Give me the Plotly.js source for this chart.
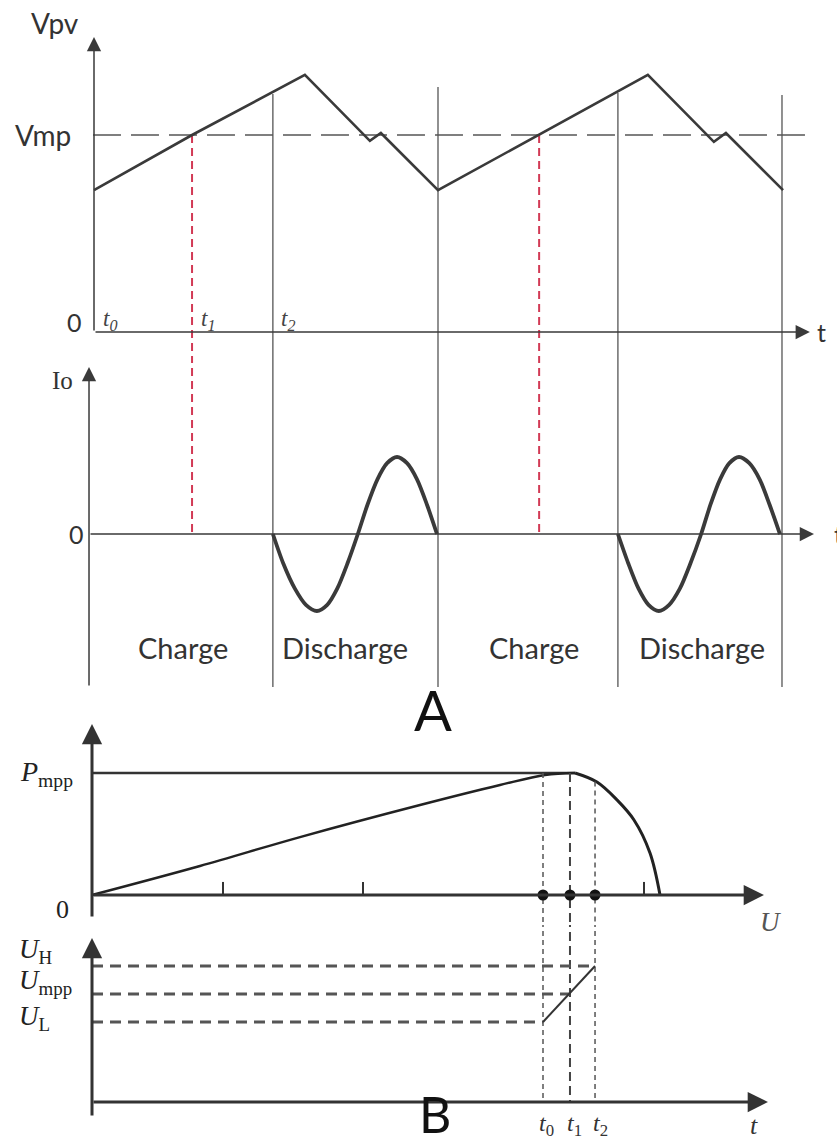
<!DOCTYPE html>
<html><head><meta charset="utf-8">
<script src="https://cdn.plot.ly/plotly-3.0.1.min.js"></script>
<style>html,body{margin:0;padding:0;background:#fff}#chart{width:837px;height:1144px}</style>
</head><body><div id="chart"></div>
<script>
// ---------- Panel A (top): PV voltage Vpv vs time ----------
const tV  = [0, 2.85, 6.13, 8.02, 8.34, 10.0, 16.1, 18.02, 18.37, 20.03];
const vPV = [0.72, 1.0, 1.305, 0.97, 1.01, 0.72, 1.305, 0.965, 1.01, 0.72];
const vMP = 1.0;
const tSwitch = [5.20, 10.0, 15.23, 20.0];
const vSwitchTop = [1.208, 1.244, 1.213, 1.203];
const tMPP = [2.85, 12.94];
const tLabelsA = ['0', '1', '2'];
const tLabelPosA = [0.47, 3.3, 5.64];
// ---------- Panel A (bottom): output current Io ----------
const tIo1 = [5.20, 5.50, 5.84, 6.16, 6.48, 6.78, 7.07, 7.37, 7.67, 7.95, 8.24, 8.52, 8.81, 9.10, 9.39, 9.68, 9.97];
const tIo2 = [15.23, 15.53, 15.83, 16.12, 16.42, 16.72, 17.03, 17.34, 17.65, 17.92, 18.2, 18.47, 18.75, 19.05, 19.35, 19.64, 19.94];
const io1  = [0, -0.38, -0.71, -0.92, -1, -0.92, -0.71, -0.38, 0, 0.38, 0.71, 0.92, 1, 0.92, 0.71, 0.38, 0];
const io2  = [0, -0.38, -0.71, -0.92, -1, -0.92, -0.71, -0.38, 0, 0.38, 0.71, 0.92, 1, 0.92, 0.71, 0.38, 0];
const ioBottom = -1.987;
const phaseLabels = ['Charge', 'Discharge', 'Charge', 'Discharge'];
const phaseT = [2.59, 7.30, 12.79, 17.67];
// ---------- Panel B (top): P vs U ----------
const uRise = [0, 19.01, 36.62, 57.75, 71.83, 79.75, 85.04];
const pRise = [0, 0.238, 0.475, 0.738, 0.902, 0.984, 1.0];
const uFall = [85.04, 88.9, 92.43, 95.42, 98.24, 100];
const pFall = [1.0, 0.926, 0.779, 0.615, 0.344, 0];
const pMPP = 1.0;
const uTicks = [23.06, 47.71, 97.18];
const tMarks = [79.40, 84.15, 88.56];      // t0, t1, t2
const pMarkTop = [1.0, 1.0, 0.93];
const tMarkNames = ['0', '1', '2'];
// ---------- Panel B (bottom): U vs t ----------
const levelNames = ['L', 'mpp', 'H'];
const levelVals = [0.741, 1.0, 1.259];
const levelEnds = [79.40, 84.15, 88.56];
const tRamp = [79.40, 88.56];
const uRamp = [0.741, 1.259];

const dark = '#3a3a3a', mid = '#555555';
const traces = [];
function seg(xs, ys, xa, ya, line, extra) {
  traces.push(Object.assign({type:'scatter', mode:'lines', x:xs, y:ys, xaxis:xa, yaxis:ya,
    line:line, hoverinfo:'skip', showlegend:false}, extra||{}));
}
function verticals(xs, tops, bottoms) {
  const X = [], Y = [];
  xs.forEach((x, i) => { X.push(x, x, null); Y.push(tops[i], bottoms[i], null); });
  return [X, Y];
}
// A1
seg([-0.03, 20.67], [vMP, vMP], 'x', 'y', {color:mid, width:1.4, dash:'28px,10px'});
let v = verticals(tSwitch, vSwitchTop, tSwitch.map(() => -1));
seg(v[0], v[1], 'x', 'y', {color:mid, width:1.3});
v = verticals(tMPP, tMPP.map(() => vMP), tMPP.map(() => -1));
seg(v[0], v[1], 'x', 'y', {color:'#d23a55', width:2, dash:'8px,5px'});
seg(tV, vPV, 'x', 'y', {color:dark, width:2.6});
// A2
v = verticals(tSwitch, tSwitch.map(() => 3), tSwitch.map(() => ioBottom));
seg(v[0], v[1], 'x', 'y2', {color:mid, width:1.3});
v = verticals(tMPP, tMPP.map(() => 3), tMPP.map(() => 0));
seg(v[0], v[1], 'x', 'y2', {color:'#d23a55', width:2, dash:'8px,5px'});
seg(tIo1, io1, 'x', 'y2', {color:dark, width:3.8, shape:'spline', smoothing:0.8});
seg(tIo2, io2, 'x', 'y2', {color:dark, width:3.8, shape:'spline', smoothing:0.8});
// B1
seg([0, 85.04], [pMPP, pMPP], 'x3', 'y3', {color:'#333', width:2.6});
seg(uRise, pRise, 'x3', 'y3', {color:'#222', width:2.4, shape:'spline'});
seg(uFall, pFall, 'x3', 'y3', {color:'#222', width:3, shape:'spline'});
v = verticals(uTicks, uTicks.map(() => 0.107), uTicks.map(() => 0));
seg(v[0], v[1], 'x3', 'y3', {color:'#333', width:2});
const shortIdx = [0, 2];
v = verticals(shortIdx.map(i => tMarks[i]), shortIdx.map(i => pMarkTop[i]), shortIdx.map(() => -1));
seg(v[0], v[1], 'x3', 'y3', {color:mid, width:1.5, dash:'5px,4px'});
v = verticals([tMarks[1]], [pMarkTop[1]], [-1]);
seg(v[0], v[1], 'x3', 'y3', {color:'#444', width:2, dash:'9px,5px'});
// B2
v = verticals(shortIdx.map(i => tMarks[i]), [3, 3], [0, 0]);
seg(v[0], v[1], 'x3', 'y4', {color:mid, width:1.5, dash:'5px,4px'});
v = verticals([tMarks[1]], [3], [0]);
seg(v[0], v[1], 'x3', 'y4', {color:'#444', width:2, dash:'9px,5px'});
const LX = [], LY = [];
levelVals.forEach((u, i) => { LX.push(0, levelEnds[i], null); LY.push(u, u, null); });
seg(LX, LY, 'x3', 'y4', {color:mid, width:3, dash:'11px,7px'});
seg(tRamp, uRamp, 'x3', 'y4', {color:'#333', width:2});
// dots on U axis
traces.push({type:'scatter', mode:'markers', x:tMarks, y:tMarks.map(() => 0), xaxis:'x3', yaxis:'y3',
  marker:{color:'#111', size:11}, hoverinfo:'skip', showlegend:false, cliponaxis:false});

// ---------- annotations ----------
const ann = [];
function arrow(xr, yr, x0, y0, x1, y1, w, size, col) {
  ann.push({xref:xr, yref:yr, axref:xr, ayref:yr, x:x1, y:y1, ax:x0, ay:y0, text:'',
    showarrow:true, arrowhead:2, arrowwidth:w, arrowsize:size, arrowcolor:col, standoff:0, startstandoff:0});
}
function label(xr, yr, x, y, text, font, xanchor) {
  ann.push({xref:xr, yref:yr, x:x, y:y, text:text, showarrow:false, font:font,
    xanchor:xanchor||'center', yanchor:'middle'});
}
const sans = 'Lato, "Open Sans", sans-serif';
const serif = '"Liberation Serif", "DejaVu Serif", serif';
// A axes
arrow('x', 'y', 0, 0, 0, 1.4975, 1.5, 1.9, dark);
arrow('x', 'y', 0, 0, 20.81, 0, 1.5, 1.9, dark);
arrow('x', 'y2', -0.145, ioBottom, -0.145, 2.169, 1.5, 1.9, dark);
arrow('x', 'y2', -0.145, 0, 20.93, 0, 1.5, 1.9, dark);
label('x', 'y', -1.13, 1.57, 'Vpv', {family:sans, size:28, color:'#333'});
label('x', 'y', -1.48, 1.0, 'Vmp', {family:sans, size:28, color:'#333'});
label('x', 'y', -0.58, 0.05, '0', {family:sans, size:25, color:'#333'});
label('x', 'y', 21.15, 0.0, 't', {family:sans, size:25, color:'#333'});
tLabelsA.forEach((s, i) => label('x', 'y', tLabelPosA[i], 0.06, '<i>t<sub>' + s + '</sub></i>', {family:serif, size:23, color:'#444'}));
label('x', 'y2', -0.93, 2.0, 'Io', {family:serif, size:25, color:'#333'});
label('x', 'y2', -0.52, 0, '0', {family:sans, size:25, color:'#333'});
label('x', 'y2', 21.45, 0, 't', {family:sans, size:25, color:'#333'}, 'left');
phaseLabels.forEach((s, i) => label('x', 'y2', phaseT[i], -1.48, s, {family:sans, size:29, color:'#333'}));
label('x3', 'y3', 60.0, 1.52, 'A', {family:sans, size:56, color:'#111'});
// B axes
arrow('x3', 'y3', 0, -0.1885, 0, 1.4016, 3, 1.35, '#333');
arrow('x3', 'y3', 0, 0, 118.3, 0, 3, 1.35, '#333');
arrow('x3', 'y4', 0, -0.139, 0, 1.5185, 3, 1.35, '#333');
arrow('x3', 'y4', 0, 0, 119.0, 0, 3, 1.35, '#333');
label('x3', 'y3', -13.0, 1.0, '<i>P</i><sub>mpp</sub>', {family:serif, size:28, color:'#222'}, 'left');
label('x3', 'y3', -5.28, -0.115, '0', {family:serif, size:26, color:'#222'});
label('x3', 'y3', 119.4, -0.221, '<i>U</i>', {family:serif, size:27, color:'#555'});
const levelLabelY = [0.778, 1.111, 1.398];
levelNames.forEach((s, i) => label('x3', 'y4', -13.2, levelLabelY[i], '<i>U</i><sub>' + s + '</sub>', {family:serif, size:27, color:'#222'}, 'left'));
const tMarkLabelX = [80.1, 84.9, 89.6];
tMarkNames.forEach((s, i) => label('x3', 'y4', tMarkLabelX[i], -0.213, '<i>t</i><sub>' + s + '</sub>', {family:serif, size:24, color:'#333'}));
label('x3', 'y4', 116.5, -0.222, '<i>t</i>', {family:serif, size:26, color:'#333'});
label('x3', 'y4', 60.4, -0.115, 'B', {family:sans, size:50, color:'#111'});

const hidden = {visible:false, fixedrange:true};
const layout = {
  width:837, height:1144, margin:{l:0, r:0, t:0, b:0, pad:0},
  paper_bgcolor:'#fff', plot_bgcolor:'rgba(0,0,0,0)', showlegend:false,
  xaxis:  Object.assign({domain:[0,1], range:[-2.7326, 21.599], anchor:'y'}, hidden),
  yaxis:  Object.assign({domain:[0.68531,1], range:[-0.1421, 1.6853], anchor:'x'}, hidden),
  yaxis2: Object.assign({domain:[0.38374,0.68531], range:[-2.2208, 2.2597], anchor:'x'}, hidden),
  xaxis3: Object.assign({domain:[0,1], range:[-16.197, 131.16], anchor:'y3'}, hidden),
  yaxis3: Object.assign({domain:[0.19143,0.38374], range:[-0.2459, 1.5574], anchor:'x3'}, hidden),
  yaxis4: Object.assign({domain:[0,0.19143], range:[-0.3889, 1.6389], anchor:'x3'}, hidden),
  annotations: ann
};
Plotly.newPlot('chart', traces, layout, {staticPlot:true, displayModeBar:false});
</script></body></html>
